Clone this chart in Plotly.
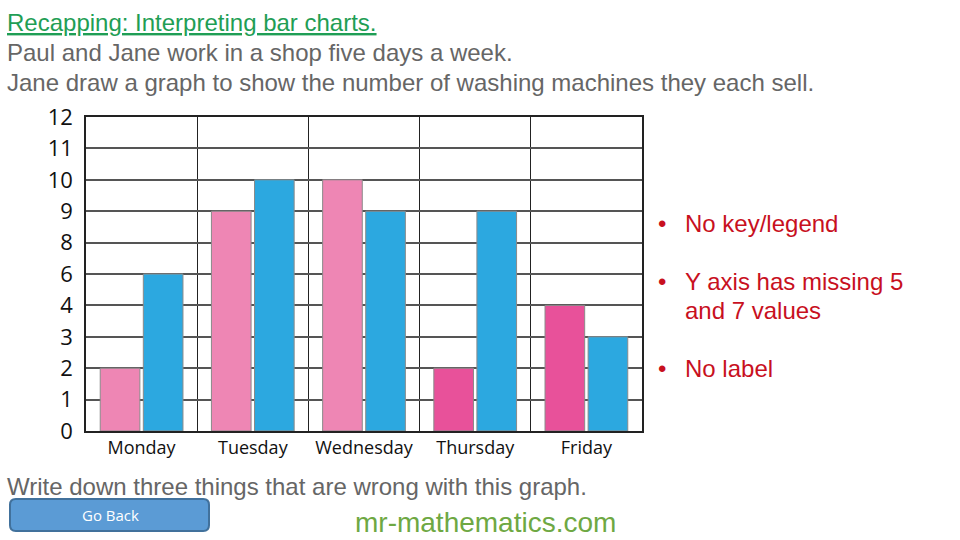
import plotly.graph_objects as go

days = ['Monday', 'Tuesday', 'Wednesday', 'Thursday', 'Friday']
paul_sold = [2, 9, 10, 2, 4]
jane_sold = [6, 10, 9, 9, 3]
y_tick_labels = [0, 1, 2, 3, 4, 6, 8, 9, 10, 11, 12]   # the "wrong" axis, 5 and 7 missing

W, H = 960, 540

# bars sit on the evenly spaced (wrong) tick positions
def pos(v):
    return y_tick_labels.index(v)

paul_pos = [pos(v) for v in paul_sold]
jane_pos = [pos(v) for v in jane_sold]
pink_cols = ['#EE86B4', '#EE86B4', '#EE86B4', '#E8519A', '#E8519A']

fig = go.Figure()
fig.add_trace(go.Bar(x=days, y=paul_pos, marker=dict(color=pink_cols, line=dict(color='#8a8a8a', width=1)),
                     hoverinfo='skip'))
fig.add_trace(go.Bar(x=days, y=jane_pos, marker=dict(color='#2CA8E0', line=dict(color='#8a8a8a', width=1)),
                     hoverinfo='skip'))

def px(x):
    return x / W

def py(y):
    return 1 - y / H

fig.update_layout(
    width=W, height=H,
    margin=dict(l=0, r=0, t=0, b=0, autoexpand=False),
    paper_bgcolor='white', plot_bgcolor='white',
    showlegend=False,
    barmode='group', bargap=0.225, bargroupgap=0.08,
    xaxis=dict(domain=[px(86), px(642)], tickson='boundaries', showgrid=True, gridcolor='#222', gridwidth=1,
               showline=True, mirror=True, linecolor='#222', linewidth=1.5, ticks='',
               tickfont=dict(family='Open Sans', size=18, color='#111'), ticklabelstandoff=0),
    yaxis=dict(domain=[py(431), py(117)], range=[0, 10], tickvals=list(range(len(y_tick_labels))),
               ticktext=[str(v) for v in y_tick_labels], showgrid=True, gridcolor='#555', gridwidth=1.5,
               showline=True, mirror=True, linecolor='#222', linewidth=1.5, ticks='', zeroline=False,
               tickfont=dict(family='Open Sans', size=22, color='#111'), ticklabelstandoff=7),
)

def txt(x, y, s, size, color, xanchor='left', family='Liberation Sans'):
    fig.add_annotation(x=px(x), y=py(y), xref='paper', yref='paper', text=s, showarrow=False,
                       xanchor=xanchor, yanchor='middle', font=dict(family=family, size=size, color=color))

grey = '#666666'
txt(5, 22, '<u>Recapping: Interpreting bar charts.</u>', 24, '#1F9E55')
txt(5, 52, 'Paul and Jane work in a shop five days a week.', 24, grey)
txt(5, 82, 'Jane draw a graph to show the number of washing machines they each sell.', 24, grey)
txt(5, 486, 'Write down three things that are wrong with this graph.', 24, grey)

red = '#C8101E'
for yy, s in [(224, 'No key/legend'), (281, 'Y axis has missing 5'), (368, 'No label')]:
    txt(656, yy, '•', 24, red)
    txt(683, yy, s, 24, red)
txt(683, 310, 'and 7 values', 24, red)

# Go Back button
x0, x1, y0, y1, r = px(10), px(209), py(531), py(499), 0.006
rx, ry = r, r * W / H
path = (f'M {x0+rx},{y0} L {x1-rx},{y0} Q {x1},{y0} {x1},{y0+ry} L {x1},{y1-ry} Q {x1},{y1} {x1-rx},{y1} '
        f'L {x0+rx},{y1} Q {x0},{y1} {x0},{y1-ry} L {x0},{y0+ry} Q {x0},{y0} {x0+rx},{y0} Z')
fig.add_shape(type='path', path=path, xref='paper', yref='paper', fillcolor='#5B9BD5',
              line=dict(color='#41719C', width=2))
txt(110, 515, 'Go Back', 15, 'white', xanchor='center', family='Open Sans')

txt(485, 522, 'mr-mathematics.com', 28, '#6EA843', xanchor='center')

# page body has an 8px default margin, drop it so the figure sits at 0,0
fig.write_html('out.html', config={'displayModeBar': False},
               post_script="document.body.style.margin='0';")
